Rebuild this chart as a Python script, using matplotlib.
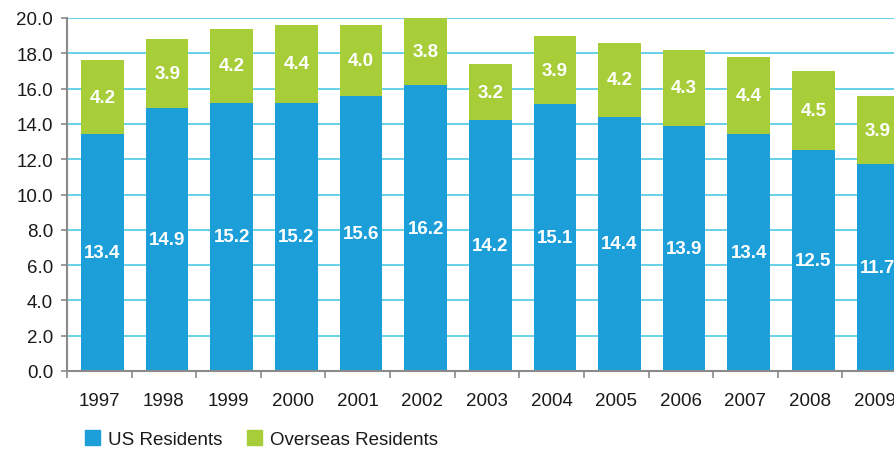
import numpy as np
import matplotlib
matplotlib.use("Agg")
import matplotlib.pyplot as plt
from matplotlib.patches import Patch

plt.rcParams['font.family'] = ['Liberation Sans', 'DejaVu Sans']

years = ['1997', '1998', '1999', '2000', '2001', '2002', '2003',
         '2004', '2005', '2006', '2007', '2008', '2009']
us_residents = [13.4, 14.9, 15.2, 15.2, 15.6, 16.2, 14.2, 15.1, 14.4, 13.9, 13.4, 12.5, 11.7]
overseas_residents = [4.2, 3.9, 4.2, 4.4, 4.0, 3.8, 3.2, 3.9, 4.2, 4.3, 4.4, 4.5, 3.9]

blue = '#1c9fd9'
green = '#a7cd39'
grid_col = '#5ccfe6'
spine_col = '#8a8a8a'
text_col = '#1a1a1a'

fig = plt.figure(figsize=(8.94, 4.52), dpi=100)
# axes runs a bit past the right edge, like the original
ax = fig.add_axes([67 / 894, 80 / 452, 840 / 894, 353 / 452])

x = np.arange(len(years)) + 0.05
width = 0.66
ax.bar(x, us_residents, width, color=blue, zorder=2, label='US Residents')
ax.bar(x, overseas_residents, width, bottom=us_residents, color=green, zorder=2,
       label='Overseas Residents')

for xi, us, ov in zip(x, us_residents, overseas_residents):
    ax.text(xi, us / 2, f'{us:.1f}', ha='center', va='center', color='white',
            fontsize=13.5, fontweight='bold', zorder=3)
    ax.text(xi, us + ov / 2, f'{ov:.1f}', ha='center', va='center', color='white',
            fontsize=13.5, fontweight='bold', zorder=3)

ax.set_xlim(-0.5, len(years) - 0.5)
ax.set_ylim(0, 20)
ax.set_yticks(np.arange(0, 20.1, 2))
ax.set_yticklabels([f'{v:.1f}' for v in np.arange(0, 20.1, 2)])
ax.yaxis.grid(True, color=grid_col, linewidth=1.3, zorder=0)
ax.set_axisbelow(True)

# tick marks between categories, labels at the centres
ax.set_xticks(np.arange(-0.5, len(years), 1.0))
ax.set_xticklabels([])
ax.set_xticks(np.arange(len(years)), minor=True)
ax.set_xticklabels(years, minor=True)
ax.tick_params(axis='x', which='major', length=5, width=1.2, color=spine_col)
ax.tick_params(axis='x', which='minor', length=0, pad=15, labelsize=13.5, labelcolor=text_col)
ax.tick_params(axis='y', length=4, width=1.2, color=spine_col, pad=6,
               labelsize=13.5, labelcolor=text_col)

for s in ['top', 'right']:
    ax.spines[s].set_visible(False)
for s in ['left', 'bottom']:
    ax.spines[s].set_color(spine_col)
    ax.spines[s].set_linewidth(1.5)

handles = [Patch(color=blue), Patch(color=green)]
fig.legend(handles, ['US Residents', 'Overseas Residents'], loc='center left',
           bbox_to_anchor=(68 / 894, 12 / 452), ncol=2, frameon=False,
           fontsize=13.5, handlelength=0.8, handleheight=0.8, handletextpad=0.45,
           columnspacing=1.3, labelcolor=text_col)

fig.savefig('out.png', dpi=100)
